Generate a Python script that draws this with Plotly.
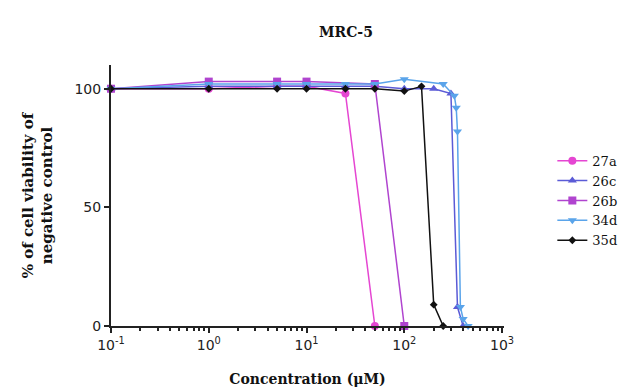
import plotly.graph_objects as go

# ---- data ----
conc_27a = [0.1, 1, 5, 10, 25, 50]
via_27a = [100, 100, 101, 101, 98, 0]

conc_26c = [0.1, 1, 5, 10, 25, 50, 100, 200, 300, 350, 400]
via_26c = [100, 101, 101, 101, 101, 101, 100, 100, 98, 8, 0]

conc_26b = [0.1, 1, 5, 10, 50, 100]
via_26b = [100, 103, 103, 103, 102, 0]

conc_34d = [0.1, 1, 5, 10, 25, 50, 100, 250, 325, 340, 350, 375, 400, 450]
via_34d = [100, 102, 102, 102, 102, 102, 104, 102, 97, 92, 82, 8, 3, 0]

conc_35d = [0.1, 1, 5, 10, 25, 50, 100, 150, 200, 250]
via_35d = [100, 100, 100, 100, 100, 100, 99, 101, 9, 0]

series_names = ["27a", "26c", "26b", "34d", "35d"]
series_x = [conc_27a, conc_26c, conc_26b, conc_34d, conc_35d]
series_y = [via_27a, via_26c, via_26b, via_34d, via_35d]
series_colors = ["#e546d2", "#5b5bd6", "#b044cf", "#5aa4ea", "#111111"]
series_symbols = ["circle", "triangle-up", "square", "triangle-down", "diamond"]
series_sizes = [8, 8, 8, 8, 6]

x_tickvals = [0.1, 1, 10, 100, 1000]
x_ticktext = ["10<sup>-1</sup>", "10<sup>0</sup>", "10<sup>1</sup>", "10<sup>2</sup>", "10<sup>3</sup>"]
x_minor = [m * d for d in (0.1, 1, 10, 100) for m in range(2, 10)]
y_tickvals = [0, 50, 100]

serif = "DejaVu Serif, serif"
sans = "DejaVu Sans, Arial, sans-serif"

fig = go.Figure()
for name, xs, ys, c, s, sz in zip(series_names, series_x, series_y,
                                  series_colors, series_symbols, series_sizes):
    fig.add_trace(go.Scatter(
        x=xs, y=ys, name=name, mode="lines+markers",
        line=dict(color=c, width=1.5),
        marker=dict(color=c, symbol=s, size=sz),
        cliponaxis=False,
    ))

fig.update_layout(
    width=641, height=390,
    margin=dict(l=103, r=145, t=57, b=72, autoexpand=False),
    paper_bgcolor="white", plot_bgcolor="white",
    title=dict(text="<b>MRC-5</b>", x=338 / 641, xanchor="center",
               y=1 - 24 / 390, yanchor="middle",
               font=dict(family=serif, size=14, color="#111")),
    legend=dict(x=1.123, y=0.48, xanchor="left", yanchor="middle",
                font=dict(family=serif, size=13, color="#111"),
                bgcolor="rgba(0,0,0,0)", tracegroupgap=0, itemwidth=30),
    xaxis=dict(
        type="log", range=[-1, 3.02], automargin=False,
        tickvals=x_tickvals, ticktext=x_ticktext,
        ticks="outside", ticklen=5, tickwidth=2, tickcolor="#222",
        minor=dict(tickvals=x_minor, ticks="outside", ticklen=3, tickwidth=1.5,
                   tickcolor="#222", showgrid=False),
        showline=True, linecolor="#222", linewidth=2,
        showgrid=False, zeroline=False,
        tickfont=dict(family=sans, size=14, color="#222"),
        title=dict(text="<b>Concentration (μM)</b>", standoff=22,
                   font=dict(family=serif, size=14, color="#111")),
    ),
    yaxis=dict(
        range=[0, 110], automargin=False,
        tickvals=y_tickvals,
        ticks="outside", ticklen=5, tickwidth=2, tickcolor="#222",
        showline=True, linecolor="#222", linewidth=2,
        showgrid=False, zeroline=False,
        tickfont=dict(family=sans, size=14, color="#222"),
        title=dict(text="<b>% of cell viability of<br>negative control</b>", standoff=18,
                   font=dict(family=serif, size=15, color="#111")),
    ),
)

fig.write_html("out.html")
